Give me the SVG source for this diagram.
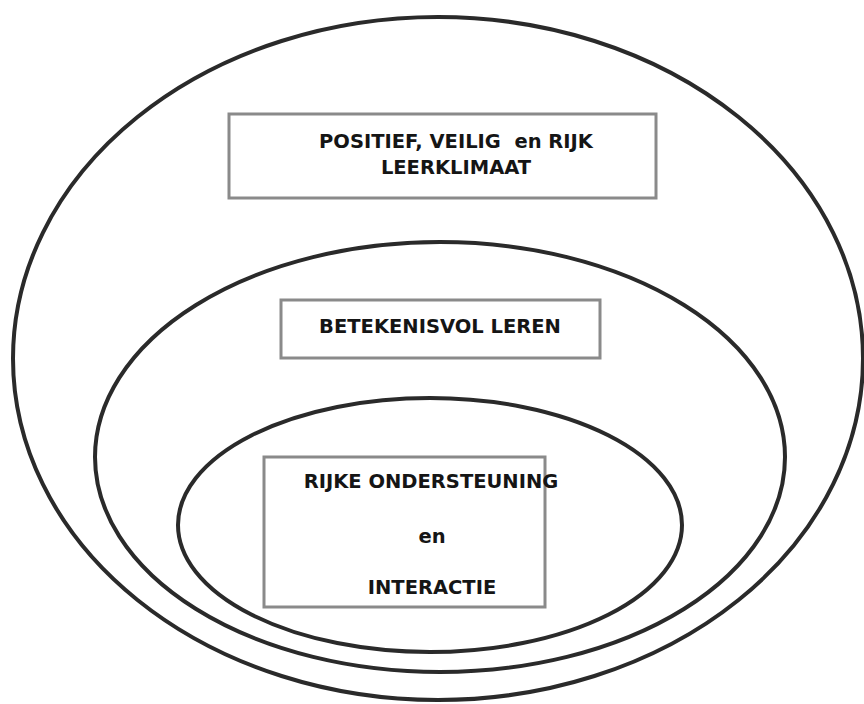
<svg xmlns="http://www.w3.org/2000/svg" width="864" height="704" viewBox="0 0 864 704">
<style>
.ring{fill:none;stroke:#2a2a2a;stroke-width:4}
.box{fill:#fff;stroke:#8a8a8a;stroke-width:3}
.t{font-family:"DejaVu Sans",Verdana,sans-serif;font-weight:bold;font-size:19.5px;fill:#151515;text-anchor:middle;white-space:pre}
</style>
<rect width="864" height="704" fill="#fff"/>
<g id="outer"><ellipse class="ring" cx="438" cy="358.5" rx="425" ry="341.5"/></g>
<g id="middle"><ellipse class="ring" cx="440" cy="457" rx="345" ry="215"/></g>
<g id="inner"><ellipse class="ring" cx="430" cy="525" rx="252" ry="127"/></g>
<g id="box-klimaat">
<rect class="box" x="229" y="114" width="427" height="84"/>
<text class="t" x="456" y="148" xml:space="preserve">POSITIEF, VEILIG  en RIJK</text>
<text class="t" x="456" y="174">LEERKLIMAAT</text>
</g>
<g id="box-leren">
<rect class="box" x="281" y="300" width="319" height="58"/>
<text class="t" x="440" y="333">BETEKENISVOL LEREN</text>
</g>
<g id="box-ondersteuning">
<rect class="box" x="264" y="457" width="281" height="150"/>
<text class="t" x="431" y="488">RIJKE ONDERSTEUNING</text>
<text class="t" x="432" y="543">en</text>
<text class="t" x="432" y="594">INTERACTIE</text>
</g>
<g id="connectors"></g>
</svg>
